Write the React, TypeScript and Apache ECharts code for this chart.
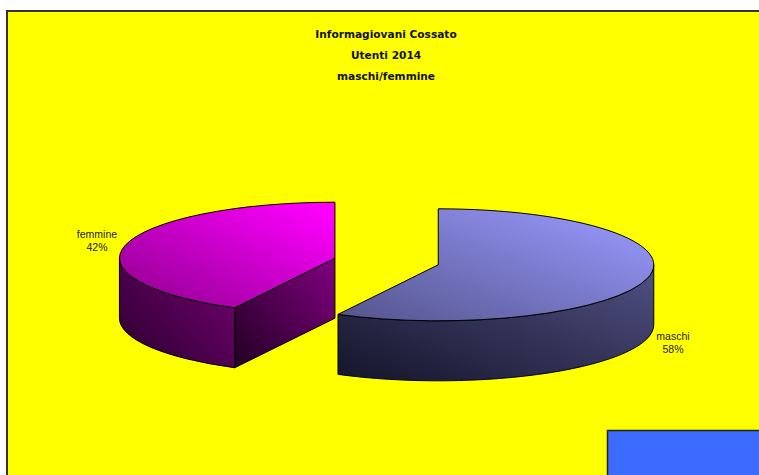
import React, { useEffect, useRef } from "react";
import * as echarts from "echarts";

const categories = ["femmine", "maschi"];
const values = [42.3, 57.7];
const percentLabels = ["42%", "58%"];
const titleLines = ["Informagiovani Cossato", "Utenti 2014", "maschi/femmine"];

// geometry of the tilted pie
const CX = 386.6, CY = 261.5, RX = 215.5, RY = 56, DEPTH = 60, EXPLODE = 53.2;
const LABEL_POS = [[97, 240], [673, 342]];
const PALETTE = [
  { top: ["#FF00FF", "#8C008C"], wall: ["#720072", "#2A002A"], cut: ["#7C007C", "#220022"] },
  { top: ["#9999FF", "#54548C"], wall: ["#4E4E80", "#14142A"], cut: ["#4E4E80", "#14142A"] },
];

const grad = (c: string[]) => ({
  type: "linear", x: 0, y: 1, x2: 1, y2: 0.1,
  colorStops: [{ offset: 0, color: c[1] }, { offset: 1, color: c[0] }],
});
const rad = (d: number) => (d * Math.PI) / 180;

function renderItem(params: any, api: any) {
  const i = params.dataIndex;
  const total = values.reduce((a, b) => a + b, 0);
  // slices run clockwise from 12 o'clock: maschi first, then femmine
  const share = (api.value(0) / total) * 360;
  const firstShare = (values[1] / total) * 360;
  const start = i === 1 ? 0 : firstShare;
  const end = start + share;
  const mid = rad((start + end) / 2);
  const ox = CX + EXPLODE * Math.sin(mid);
  const oy = CY - EXPLODE * Math.cos(mid) * (RY / RX);
  const pt = (deg: number, dy = 0) => [ox + RX * Math.sin(rad(deg)), oy - RY * Math.cos(rad(deg)) + dy];
  const f = (p: number[]) => `${p[0].toFixed(2)} ${p[1].toFixed(2)}`;
  const pal = PALETTE[i];
  const lineStyle = { stroke: "#000", lineWidth: 1 };
  const children: any[] = [];

  // outer wall: the part of the arc facing the viewer (90deg..270deg)
  const wa = Math.max(start, 90), wb = Math.min(end, 270);
  if (wb > wa) {
    const d = `M${f(pt(wa))} A${RX} ${RY} 0 0 1 ${f(pt(wb))} L${f(pt(wb, DEPTH))} A${RX} ${RY} 0 0 0 ${f(pt(wa, DEPTH))} Z`;
    children.push({ type: "path", shape: { pathData: d }, style: { ...lineStyle, fill: grad(pal.wall) } });
  }
  // radial cut face of the slice, when it faces the viewer
  if (i === 0) {
    const p = pt(start), c = [ox, oy];
    const d = `M${f(c)} L${f(p)} L${f([p[0], p[1] + DEPTH])} L${f([c[0], c[1] + DEPTH])} Z`;
    children.push({ type: "path", shape: { pathData: d }, style: { ...lineStyle, fill: grad(pal.cut) } });
  }
  // top face
  const large = end - start > 180 ? 1 : 0;
  const top = `M${f([ox, oy])} L${f(pt(start))} A${RX} ${RY} 0 ${large} 1 ${f(pt(end))} Z`;
  children.push({ type: "path", shape: { pathData: top }, style: { ...lineStyle, fill: grad(pal.top) } });

  children.push({
    type: "text",
    style: {
      x: LABEL_POS[i][0], y: LABEL_POS[i][1],
      text: `${categories[i]}\n${percentLabels[i]}`,
      textAlign: "center", textVerticalAlign: "middle",
      fill: "#222", fontFamily: "Liberation Sans", fontSize: 10.5, lineHeight: 13,
    },
  });
  return { type: "group", children };
}

export default function App() {
  const ref = useRef<HTMLDivElement>(null);
  useEffect(() => {
    const chart = echarts.init(ref.current!, null, { renderer: "svg" });
    chart.setOption({
      animation: false,
      backgroundColor: "#ffffff",
      title: {
        text: titleLines.join("\n"),
        left: 381, top: 18, textAlign: "center",
        textStyle: { fontFamily: "DejaVu Sans", fontWeight: "bold", fontSize: 10.6, lineHeight: 21, color: "#111" },
      },
      graphic: [
        { type: "rect", z: -1, shape: { x: 7, y: 11, width: 800, height: 520 }, style: { fill: "#FFFF00", stroke: "#333", lineWidth: 2 } },
        { type: "rect", z: -1, shape: { x: 607.5, y: 430.5, width: 200, height: 80 }, style: { fill: "#3D6BFF", stroke: "#222", lineWidth: 1.5 } },
      ],
      series: [{
        type: "custom",
        coordinateSystem: "none",
        clip: false,
        renderItem,
        data: categories.map((name, i) => ({ name, value: [values[i]] })),
      }],
    });
    return () => chart.dispose();
  }, []);
  return <div ref={ref} style={{ position: "fixed", left: 0, top: 0, width: 759, height: 475 }} />;
}
